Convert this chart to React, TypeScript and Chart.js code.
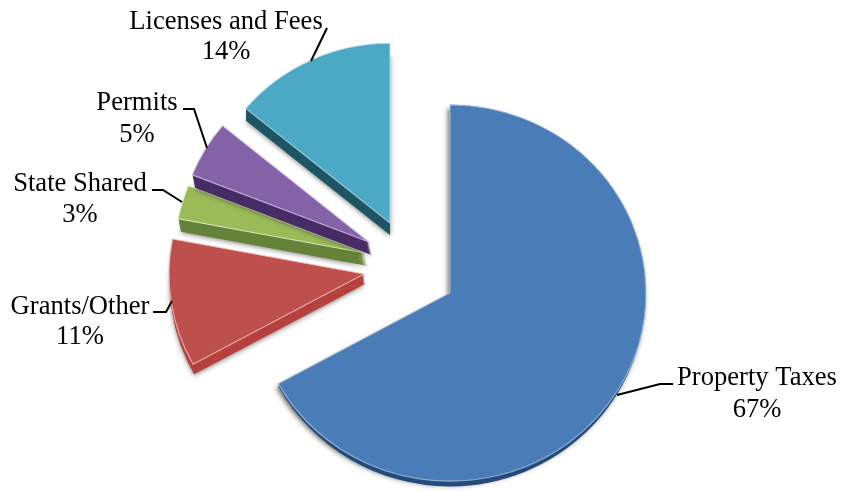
import React, { useEffect, useRef } from "react";
import { Chart, registerables } from "chart.js";

Chart.register(...registerables);

// Revenue shares, clockwise from twelve o'clock.
const categories = ["Property Taxes", "Grants/Other", "State Shared", "Permits", "Licenses and Fees"];
const shares = [67, 11, 3, 5, 14];

const faceColors = ["#4a7db8", "#bd504d", "#9bbb59", "#8362a8", "#4ba9c6"];
const wallColors = ["#234a7c", "#b5423f", "#66823a", "#472d66", "#1e5565"];
const rimColors = [
  "rgba(190,207,228,0.65)",
  "rgba(245,190,185,0.8)",
  "rgba(228,240,200,0.85)",
  "rgba(215,200,235,0.8)",
  "rgba(190,225,235,0.7)",
];

// How far each slice is pulled out of the pie, and its size relative to the pie.
const pullX = [0, -86, -85, -81, -60];
const pullY = [0, -19, -40, -51, -70];
const sliceScale = [1, 0.995, 0.97, 0.97, 0.955];
const wallDepth = [0, 10, 13, 13, 12];
const wallLean = [0, 0.1, 0.2, 0.2, 0];
const TILT = 0.96;

const explodedSlices = {
  id: "explodedSlices",
  beforeDatasetDraw(chart: any, args: any) {
    const { ctx } = chart;
    args.meta.data.forEach((arc: any, i: number) => {
      const ax = arc.x + pullX[i];
      const ay = arc.y + pullY[i];
      const r = arc.outerRadius * sliceScale[i];

      const sector = (offsetX: number, offsetY: number, stretch: number) => {
        ctx.save();
        ctx.translate(ax + offsetX, ay + offsetY);
        ctx.scale(1, stretch);
        ctx.beginPath();
        ctx.moveTo(0, 0);
        ctx.arc(0, 0, r, arc.startAngle, arc.endAngle);
        ctx.closePath();
        ctx.restore();
      };

      // Soft shadow and side wall below the top face.
      ctx.save();
      ctx.fillStyle = wallColors[i];
      if (wallDepth[i] > 0) {
        for (let d = wallDepth[i]; d > 0; d--) {
          if (d === wallDepth[i]) {
            ctx.shadowColor = "rgba(40,40,40,0.6)";
            ctx.shadowBlur = 5;
            ctx.shadowOffsetY = 1;
          } else {
            ctx.shadowColor = "transparent";
          }
          sector(d * wallLean[i], d, TILT);
          ctx.fill();
        }
      } else {
        ctx.shadowColor = "rgba(40,40,40,0.7)";
        ctx.shadowBlur = 5;
        ctx.shadowOffsetX = -2;
        ctx.shadowOffsetY = 4;
        sector(0, 0, TILT);
        ctx.fill();
        ctx.shadowColor = "transparent";
        ctx.shadowOffsetX = 0;
        ctx.shadowOffsetY = 0;
        // The large slice only shows its wall along the lower rim.
        ctx.beginPath();
        ctx.rect(0, ay, chart.width, chart.height - ay);
        ctx.clip();
        sector(0, 0, TILT * 1.028);
        ctx.fill();
      }
      ctx.restore();

      // Top face, drawn by the arc element itself.
      ctx.save();
      ctx.translate(ax, ay);
      ctx.scale(sliceScale[i], TILT * sliceScale[i]);
      ctx.translate(-arc.x, -arc.y);
      arc.draw(ctx);
      ctx.restore();
    });
    return false;
  },
};

// Label centres and baselines, plus each leader line's path.
const labelCenterX = [757, 80, 80, 137, 226];
const nameBaseline = [385, 314, 191, 110, 29];
const shareBaseline = [417, 344, 222, 142, 59];
const leaderPaths = [
  [[617, 395], [660, 384], [673, 384]],
  [[153, 312], [166, 312], [172, 301]],
  [[152, 190], [163, 190], [182, 202]],
  [[183, 109], [194, 109], [207, 148]],
  [[327, 28], [311, 61]],
];

const sliceLabels = {
  id: "sliceLabels",
  afterDatasetsDraw(chart: any) {
    const { ctx } = chart;
    ctx.save();
    ctx.strokeStyle = "#000000";
    ctx.lineWidth = 2;
    leaderPaths.forEach((path) => {
      ctx.beginPath();
      path.forEach(([x, y], k) => (k ? ctx.lineTo(x, y) : ctx.moveTo(x, y)));
      ctx.stroke();
    });
    ctx.fillStyle = "#000000";
    ctx.font = '26.6px "Liberation Serif"';
    ctx.textAlign = "center";
    ctx.textBaseline = "alphabetic";
    categories.forEach((name, i) => {
      ctx.fillText(name, labelCenterX[i], nameBaseline[i]);
      ctx.fillText(`${shares[i]}%`, labelCenterX[i], shareBaseline[i]);
    });
    ctx.restore();
  },
};

export default function App() {
  const canvasRef = useRef<HTMLCanvasElement | null>(null);

  useEffect(() => {
    const chart = new Chart(canvasRef.current as HTMLCanvasElement, {
      type: "pie",
      data: {
        labels: categories,
        datasets: [
          {
            data: shares,
            backgroundColor: faceColors,
            borderColor: rimColors,
            borderWidth: 1.2,
            borderJoinStyle: "miter",
          },
        ],
      },
      options: {
        responsive: false,
        animation: false,
        radius: 196,
        layout: { padding: { left: 56, top: 95 } },
        plugins: { legend: { display: false }, tooltip: { enabled: false } },
      },
      plugins: [explodedSlices, sliceLabels],
    } as any);
    return () => chart.destroy();
  }, []);

  return (
    <div style={{ position: "absolute", left: 0, top: 0, width: 844, height: 491, background: "#ffffff" }}>
      <canvas ref={canvasRef} width={844} height={491} style={{ display: "block" }} />
    </div>
  );
}
